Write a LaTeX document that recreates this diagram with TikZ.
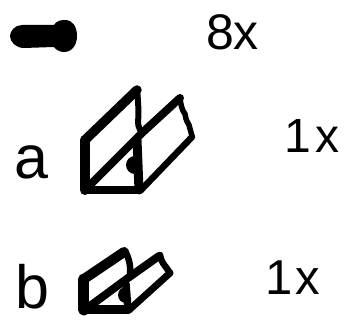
\documentclass[tikz,border=0pt]{standalone}
\usepackage{fontspec}
\setmainfont{Liberation Sans}
\tikzset{
  lbl/.style={inner sep=0pt,anchor=base west,text=black},
  thick outline/.style={line width=#1,line join=round,line cap=round,draw=black}
}
\begin{document}
\begin{tikzpicture}[x=1pt,y=-1pt]
\useasboundingbox (0,0) rectangle (360,326);
% screw
\fill[black] (10,36) .. controls (10,31) and (15,25) .. (22,25) -- (54,25)
  .. controls (56,21) and (61,20) .. (65,20)
  .. controls (73,20) and (77,27) .. (77,36)
  .. controls (77,45) and (72,52) .. (64,52)
  .. controls (60,52) and (56,50) .. (54,47) -- (24,48)
  .. controls (16,48) and (10,42) .. (10,36) -- cycle;
% texts
\node[lbl,font=\fontsize{50}{50}\selectfont] (t8) at (206,49.5) {8x};
\node[lbl,font=\fontsize{61}{61}\selectfont] (ta) at (14,179) {a};
\node[lbl,font=\fontsize{48}{48}\selectfont] (t1a) at (284,153) {1\kern5pt x};
\node[lbl,font=\fontsize{61}{61}\selectfont] (tb) at (15,309) {b};
\node[lbl,font=\fontsize{49}{49}\selectfont] (t1b) at (265,295) {1\kern3pt x};
% profile a
\draw[thick outline=10pt] (85,190) -- (85,140);
\draw[thick outline=9.5pt] (85,140) -- (137,90);
\draw[thick outline=8.5pt] (85,190) -- (140,190);
\draw[thick outline=8pt] (87,188) -- (143,132) -- (180,98);
\draw[thick outline=6pt] (137,89) .. controls (138,100) and (139,112) .. (138,122) .. controls (138,128) and (141,130) .. (142,134);
\draw[thick outline=9pt] (137,140) -- (139,190);
\draw[thick outline=6.5pt] (141,190) -- (192,137);
\draw[thick outline=5.5pt] (180,98) .. controls (181,106) and (182,110) .. (185,114) .. controls (186,120) and (187,122) .. (189,125) -- (192,136);
\fill[black] (135,156) -- (135,174) arc (90:270:9) -- cycle;
% profile b
\draw[thick outline=11pt] (84,310) -- (84,279);
\draw[thick outline=10pt] (84,279) -- (124,252);
\draw[thick outline=9pt] (84,310) -- (128,310);
\draw[thick outline=8pt] (90,306) -- (128,278) -- (159,256);
\draw[thick outline=6.5pt] (125,251) .. controls (129,258) and (131,266) .. (130,276);
\draw[thick outline=7.5pt] (126,284) -- (128,310);
\draw[thick outline=7pt] (129,310) -- (170,273);
\draw[thick outline=6.5pt] (160,255) .. controls (161,262) and (164,264) .. (170,273);
\fill[black] (126,287) -- (126,303) arc (90:270:8) -- cycle;
\end{tikzpicture}
\end{document}
